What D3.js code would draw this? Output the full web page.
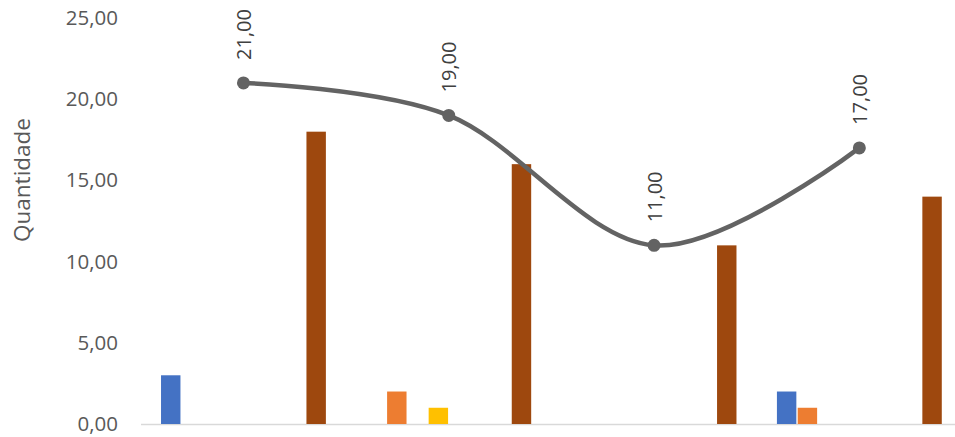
<!DOCTYPE html>
<html><head><meta charset="utf-8">
<script src="https://cdn.jsdelivr.net/npm/d3@7"></script>
<style>body{margin:0;background:#fff}svg{display:block}</style>
</head><body>
<svg id="c" width="955" height="437"></svg>
<script>
const categories = ["1", "2", "3", "4"];
const seriesNames = ["S1", "S2", "S3", "S4", "S5", "S6", "S7", "S8"];
const seriesColors = ["#4472C4", "#ED7D31", "#A5A5A5", "#FFC000", "#5B9BD5", "#70AD47", "#264478", "#9E480E"];
// values per series, one per category
const s1 = [3, 0, 0, 2];
const s2 = [0, 2, 0, 1];
const s3 = [0, 0, 0, 0];
const s4 = [0, 1, 0, 0];
const s5 = [0, 0, 0, 0];
const s6 = [0, 0, 0, 0];
const s7 = [0, 0, 0, 0];
const s8 = [18, 16, 11, 14];
const totals = [21, 19, 11, 17];
const yTicks = [0, 5, 10, 15, 20, 25];
const yLabel = "Quantidade";

const seriesValues = [s1, s2, s3, s4, s5, s6, s7, s8];
const svg = d3.select("#c");
const font = "'Open Sans', 'Liberation Sans', sans-serif";
const textColor = "#595959";

const x = d3.scaleBand().domain(categories).range([140.8, 962]).paddingInner(0.197).paddingOuter(0.0985);
const xs = d3.scaleBand().domain(seriesNames).range([0, x.bandwidth()]).paddingInner(0.065);
const y = d3.scaleLinear().domain([0, 25]).range([424, 18]);
const fmt = v => d3.format(".2f")(v).replace(".", ",");

// axis line
svg.append("line").attr("x1", 141).attr("x2", 955).attr("y1", y(0) + 0.5).attr("y2", y(0) + 0.5)
  .attr("stroke", "#d9d9d9").attr("stroke-width", 1.5);

// y tick labels
const yAxis = d3.axisLeft(y).tickValues(yTicks).tickFormat(fmt).tickSize(0).tickPadding(0);
const ga = svg.append("g").attr("transform", "translate(118,0)").call(yAxis);
ga.select(".domain").remove();
ga.selectAll("text").attr("font-family", font).attr("font-size", 20.5).attr("fill", textColor);

// y axis title
svg.append("text").attr("transform", "translate(30,180) rotate(-90)").attr("text-anchor", "middle")
  .attr("font-family", font).attr("font-size", 22.5).attr("fill", textColor).text(yLabel);

// bars
seriesValues.forEach((vals, si) => {
  svg.append("g").selectAll("rect").data(vals.map((v, i) => ({ v, c: categories[i] })).filter(d => d.v > 0))
    .join("rect")
    .attr("x", d => x(d.c) + xs(seriesNames[si]))
    .attr("width", xs.bandwidth())
    .attr("y", d => y(d.v))
    .attr("height", d => y(0) - y(d.v))
    .attr("fill", seriesColors[si]);
});

// total line
const pts = totals.map((v, i) => [x(categories[i]) + x.bandwidth() / 2, y(v)]);
svg.append("path").attr("d", d3.line().curve(d3.curveCardinal.tension(0))(pts))
  .attr("fill", "none").attr("stroke", "#636363").attr("stroke-width", 4.5).attr("stroke-linecap", "round");
svg.append("g").selectAll("circle").data(pts).join("circle")
  .attr("cx", d => d[0]).attr("cy", d => d[1]).attr("r", 6.5).attr("fill", "#636363");
svg.append("g").selectAll("text").data(totals).join("text")
  .attr("transform", (d, i) => `translate(${pts[i][0] + 7.5},${pts[i][1] - 23}) rotate(-90)`)
  .attr("font-family", font).attr("font-size", 20).attr("fill", "#404040")
  .text(d => fmt(d));
</script>
</body></html>
